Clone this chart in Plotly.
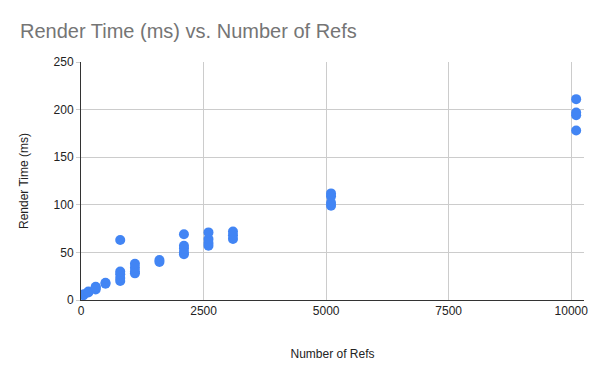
import plotly.graph_objects as go

# number of refs and measured render time (ms), one entry per run
refs = [
    50, 50,
    150, 150,
    300, 300, 300,
    500, 500,
    800, 800, 800, 800, 800,
    1100, 1100, 1100, 1100,
    1600, 1600,
    2100, 2100, 2100, 2100, 2100,
    2600, 2600, 2600, 2600,
    3100, 3100, 3100,
    5100, 5100, 5100, 5100,
    10100, 10100, 10100, 10100,
]
render_ms = [
    5, 6,
    8, 9,
    11, 13, 14,
    17, 18,
    20, 23, 27, 30, 63,
    28, 30, 34, 38,
    40, 42,
    48, 50, 54, 57, 69,
    57, 60, 64, 71,
    64, 68, 72,
    99, 102, 109, 112,
    178, 194, 197, 211,
]

x_ticks = [0, 2500, 5000, 7500, 10000]
y_ticks = [0, 50, 100, 150, 200, 250]

fig = go.Figure()
fig.add_trace(
    go.Scatter(
        x=refs,
        y=render_ms,
        mode="markers",
        marker=dict(color="#4285F4", size=10, line=dict(width=0)),
        showlegend=False,
    )
)

font_family = "Liberation Sans, Arial, sans-serif"

# page body adds an 8px offset, so the figure is 8px smaller than the window
W, H = 592, 363

fig.update_layout(
    width=W,
    height=H,
    margin=dict(l=73, r=16, t=54, b=71),
    plot_bgcolor="white",
    paper_bgcolor="white",
    font=dict(family=font_family, size=12, color="#222222"),
    title=dict(
        text="Render Time (ms) vs. Number of Refs",
        font=dict(family=font_family, size=20, color="#757575"),
        x=12 / W,
        xanchor="left",
        xref="container",
        y=1 - 23 / H,
        yanchor="middle",
        yref="container",
    ),
)

fig.update_xaxes(
    range=[0, 10260],
    tickvals=x_ticks,
    tickformat="d",
    showgrid=True,
    gridcolor="#cccccc",
    gridwidth=1,
    zeroline=False,
    showline=True,
    linecolor="#333333",
    linewidth=1,
    ticks="",
    tickfont=dict(size=12, color="#222222"),
    title=dict(text="Number of Refs", standoff=32, font=dict(size=12, color="#222222")),
    automargin=False,
)

fig.update_yaxes(
    range=[0, 250],
    tickvals=y_ticks,
    showgrid=True,
    gridcolor="#cccccc",
    gridwidth=1,
    zeroline=False,
    showline=True,
    linecolor="#333333",
    linewidth=1,
    ticks="outside",
    ticklen=4,
    tickcolor="#cccccc",
    tickfont=dict(size=12, color="#222222"),
    title=dict(text="Render Time (ms)", standoff=22, font=dict(size=12, color="#222222")),
    automargin=False,
)

fig.write_html("out.html")
